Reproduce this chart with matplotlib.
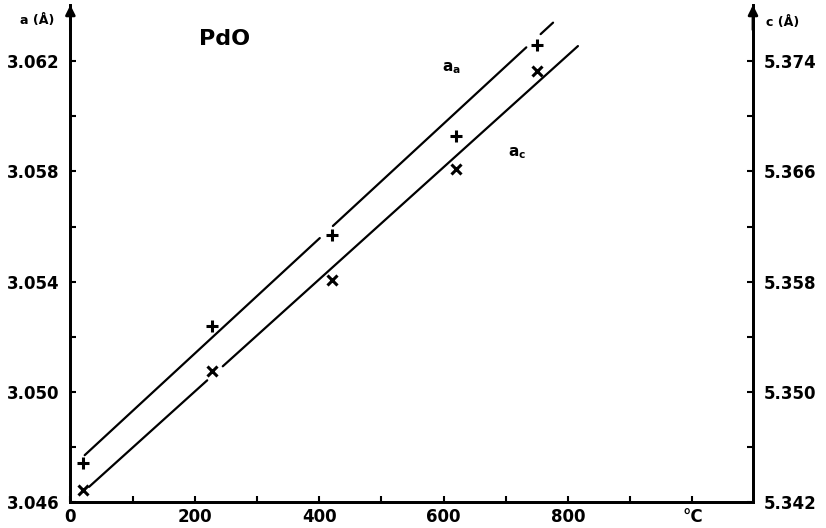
import numpy as np
import matplotlib
matplotlib.use("Agg")
import matplotlib.pyplot as plt
from matplotlib.ticker import FixedLocator

temp = [20, 228, 420, 620, 750]                      # deg C
a_vals = [3.0474, 3.0524, 3.0557, 3.0593, 3.0626]    # a (A), "+" marks, left axis
c_vals = [5.3429, 5.3515, 5.3581, 5.3662, 5.3733]    # c (A), "x" marks, right axis

# hand-drawn fit lines: end points and pen breaks (deg C)
a_line_T = [23, 776]
a_line_v = [3.0477, 3.0634]
a_gaps = [(401, 422), (733, 756)]
c_line_T = [30, 816]
c_line_v = [5.3431, 5.3751]
c_gaps = [(220, 245)]

x_ticks = [0, 100, 200, 300, 400, 500, 600, 700, 800, 900, 1000]
x_labels = ["0", "", "200", "", "400", "", "600", "", "800", "", "°C"]
a_ticks = [3.046, 3.050, 3.054, 3.058, 3.062]
a_minor = [3.048, 3.052, 3.056, 3.060]
c_ticks = [5.342, 5.350, 5.358, 5.366, 5.374]
c_minor = [5.346, 5.354, 5.362, 5.370]

A_LO, A_HI = 3.046, 3.06404
C_LO = 5.342
C_HI = C_LO + 2 * (A_HI - A_LO)
T_HI = 1097.4

plt.rcParams["font.family"] = "DejaVu Sans"
plt.rcParams["font.weight"] = "bold"


def draw_broken(ax, T, v, gaps, **kw):
    cuts = [T[0]] + [g for pair in gaps for g in pair] + [T[1]]
    for t0, t1 in zip(cuts[::2], cuts[1::2]):
        ax.plot([t0, t1], np.interp([t0, t1], T, v), **kw)


def main():
    fig = plt.figure(figsize=(8.26, 5.28), dpi=100)
    ax = fig.add_axes([0.0852, 0.0492, 0.8264, 0.9413])
    ax2 = ax.twinx()

    ax.set_xlim(0, T_HI)
    ax.set_ylim(A_LO, A_HI)
    ax2.set_ylim(C_LO, C_HI)

    line_kw = dict(color="k", lw=1.6, solid_capstyle="round")
    draw_broken(ax, a_line_T, a_line_v, a_gaps, **line_kw)
    draw_broken(ax2, c_line_T, c_line_v, c_gaps, **line_kw)

    ax.plot(temp, a_vals, "+", color="k", ms=9, mew=2.2)
    ax2.plot(temp, c_vals, "x", color="k", ms=7, mew=2.2)

    for a in (ax, ax2):
        a.spines["top"].set_visible(False)
        for s in a.spines.values():
            s.set_linewidth(2.0)

    ax.xaxis.set_major_locator(FixedLocator(x_ticks))
    ax.set_xticklabels(x_labels, fontsize=12, fontweight="bold")
    ax.yaxis.set_major_locator(FixedLocator(a_ticks))
    ax.yaxis.set_minor_locator(FixedLocator(a_minor))
    ax.yaxis.set_major_formatter(plt.FuncFormatter(lambda v, p: f"{v:.3f}"))
    ax2.yaxis.set_major_locator(FixedLocator(c_ticks))
    ax2.yaxis.set_minor_locator(FixedLocator(c_minor))
    ax2.yaxis.set_major_formatter(plt.FuncFormatter(lambda v, p: f"{v:.3f}"))

    ax.tick_params(axis="both", which="both", direction="in", length=4, width=1.5,
                   labelsize=12)
    ax.tick_params(axis="x", pad=4)
    ax.tick_params(axis="y", pad=8)
    ax2.tick_params(axis="y", which="both", direction="in", length=4, width=1.5,
                    labelsize=12, pad=8)
    for lab in ax.get_yticklabels() + ax2.get_yticklabels():
        lab.set_fontweight("bold")

    # arrows at the top of both vertical axes
    for xf in (0, 1):
        ax.annotate("", xy=(xf, 1.0), xytext=(xf, 0.95), xycoords="axes fraction",
                    arrowprops=dict(arrowstyle="-|>", color="k", lw=2,
                                    mutation_scale=14, shrinkA=0, shrinkB=0))

    fig.text(0.045, 0.955, "a (Å)", fontsize=9, fontweight="bold", ha="center")
    fig.text(0.948, 0.950, "c (Å)", fontsize=9, fontweight="bold", ha="center")
    ax.text(248, 3.0628, "PdO", fontsize=16, fontweight="bold", ha="center",
            va="center")
    ax.text(613, 3.06175, r"$\mathbf{a_a}$", fontsize=11, ha="center", va="center")
    ax.text(718, 3.05865, r"$\mathbf{a_c}$", fontsize=11, ha="center", va="center")

    fig.savefig("out.png", dpi=100)


if __name__ == "__main__":
    main()
